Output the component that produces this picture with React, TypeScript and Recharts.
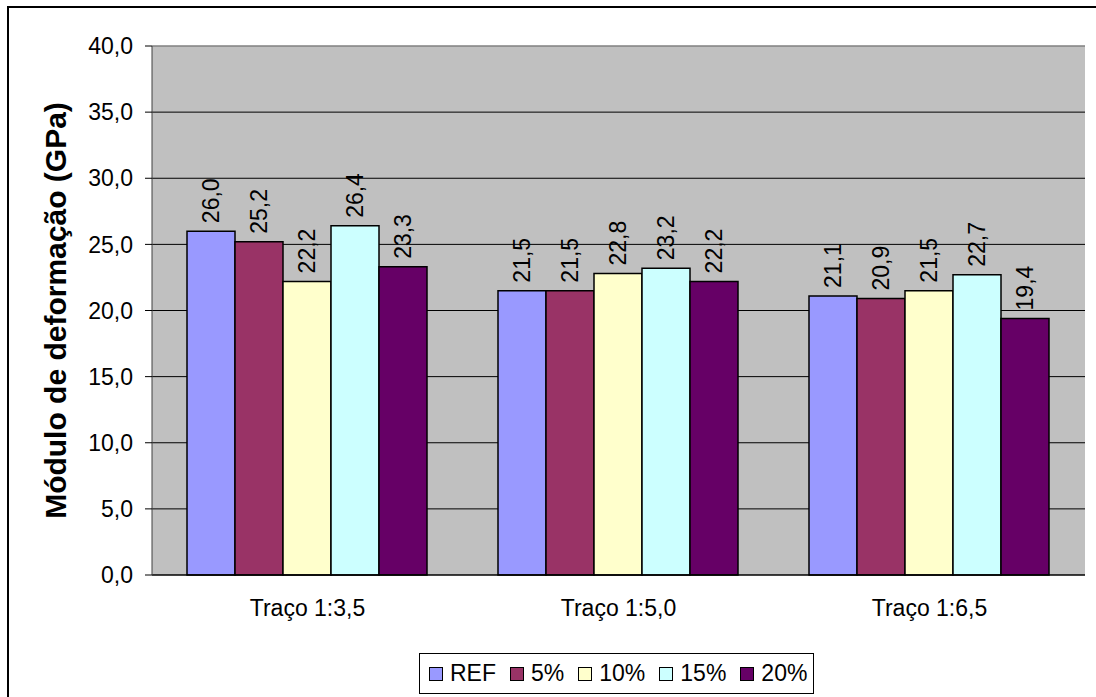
import { BarChart, Bar, XAxis, YAxis, CartesianGrid, Legend, LabelList, ReferenceLine } from 'recharts';

const categories = ['Traço 1:3,5', 'Traço 1:5,0', 'Traço 1:6,5'];
const seriesNames = ['REF', '5%', '10%', '15%', '20%'];
const seriesColors = ['#9999FF', '#993366', '#FFFFCC', '#CCFFFF', '#660066'];
const refValues = [26.0, 21.5, 21.1];
const p5Values = [25.2, 21.5, 20.9];
const p10Values = [22.2, 22.8, 21.5];
const p15Values = [26.4, 23.2, 22.7];
const p20Values = [23.3, 22.2, 19.4];
const yTicks = [0, 5, 10, 15, 20, 25, 30, 35, 40];

const seriesValues = [refValues, p5Values, p10Values, p15Values, p20Values];

const data = categories.map((name, i) => {
  const row: Record<string, string | number> = { name, idx: i + 0.5 };
  seriesNames.forEach((s, j) => {
    row[s] = seriesValues[j][i];
  });
  return row;
});

const FONT = '"Liberation Sans", Arial, sans-serif';
const fmt = (v: number) => v.toFixed(1).replace('.', ',');

const BarValue = (props: any) => {
  const { x, y, width, value } = props;
  const cx = x + width / 2;
  const cy = y - 8;
  return (
    <text
      x={cx}
      y={cy}
      transform={`rotate(-90, ${cx}, ${cy})`}
      textAnchor="start"
      dominantBaseline="central"
      fontSize={23}
      fontFamily={FONT}
      fill="#000"
    >
      {fmt(value)}
    </text>
  );
};

// category boundary tick marks, drawn below the axis line
const EdgeTick = (props: any) => {
  const { x, y } = props;
  return <line x1={x} x2={x} y1={y - 2} y2={y + 5} stroke="#808080" strokeWidth={1.5} />;
};

const LegendBox = () => (
  <div
    style={{
      border: '1px solid #000',
      background: '#fff',
      height: 41,
      display: 'flex',
      alignItems: 'center',
      paddingLeft: 9,
      boxSizing: 'border-box',
      fontFamily: FONT,
      fontSize: 23,
      color: '#000',
    }}
  >
    {seriesNames.map((s, i) => (
      <div key={s} style={{ display: 'flex', alignItems: 'center', marginRight: 14 }}>
        <span
          style={{
            display: 'inline-block',
            width: 12,
            height: 12,
            border: '1px solid #000',
            background: seriesColors[i],
            marginRight: 7,
          }}
        />
        <span>{s}</span>
      </div>
    ))}
  </div>
);

export default function App() {
  return (
    <div style={{ position: 'fixed', left: 0, top: 0, width: 1096, height: 697, overflow: 'hidden', background: '#fff' }}>
      <div
        style={{
          position: 'absolute',
          left: 7,
          top: 6,
          width: 1200,
          height: 800,
          border: '2px solid #000',
        }}
      />
      <div style={{ position: 'absolute', left: 0, top: 0 }}>
        <BarChart
          width={1096}
          height={697}
          data={data}
          margin={{ top: 46, right: 11, bottom: 92, left: 52 }}
          barCategoryGap={35}
          barGap={0}
        >
          <CartesianGrid
            vertical={false}
            horizontalValues={[5, 10, 15, 20, 25, 30, 35]}
            stroke="#000"
            strokeWidth={1}
            fill="#C0C0C0"
            fillOpacity={1}
          />
          <XAxis
            xAxisId="edges"
            type="number"
            dataKey="idx"
            domain={[0, 3]}
            ticks={[0, 1, 2, 3]}
            interval={0}
            tickSize={0}
            tickLine={false}
            tick={<EdgeTick />}
            axisLine={false}
            height={0}
          />
          <XAxis
            dataKey="name"
            xAxisId="cat"
            height={30}
            tickLine={false}
            tickSize={0}
            tickMargin={25}
            axisLine={{ stroke: '#000', strokeWidth: 1.5 }}
            tick={{ fontSize: 23, fill: '#000', fontFamily: FONT }}
          />
          <YAxis
            domain={[0, 40]}
            ticks={yTicks}
            interval={0}
            width={100}
            tickSize={7}
            tickMargin={12}
            tickFormatter={fmt}
            axisLine={{ stroke: '#404040', strokeWidth: 1 }}
            tickLine={{ stroke: '#000', strokeWidth: 1 }}
            tick={{ fontSize: 23, fill: '#000', fontFamily: FONT }}
            label={{
              value: 'Módulo de deformação (GPa)',
              angle: -90,
              position: 'insideLeft',
              offset: 3,
              style: { textAnchor: 'middle', fontSize: 30, fontWeight: 'bold', fontFamily: FONT, fill: '#000' },
            }}
          />
          <YAxis
            yAxisId="right"
            orientation="right"
            domain={[0, 40]}
            width={0}
            tick={false}
            tickLine={false}
            axisLine={{ stroke: '#808080', strokeWidth: 1.5 }}
          />
          <ReferenceLine y={40} xAxisId="cat" stroke="#808080" strokeWidth={1.5} />
          <Legend
            layout="vertical"
            align="center"
            verticalAlign="middle"
            content={<LegendBox />}
            wrapperStyle={{ left: 419, top: 653, width: 395, height: 41 }}
          />
          {seriesNames.map((s, i) => (
            <Bar
              key={s}
              dataKey={s}
              xAxisId="cat"
              fill={seriesColors[i]}
              stroke="#000"
              strokeWidth={1.5}
              isAnimationActive={false}
            >
              <LabelList dataKey={s} content={<BarValue />} />
            </Bar>
          ))}
        </BarChart>
      </div>
    </div>
  );
}
